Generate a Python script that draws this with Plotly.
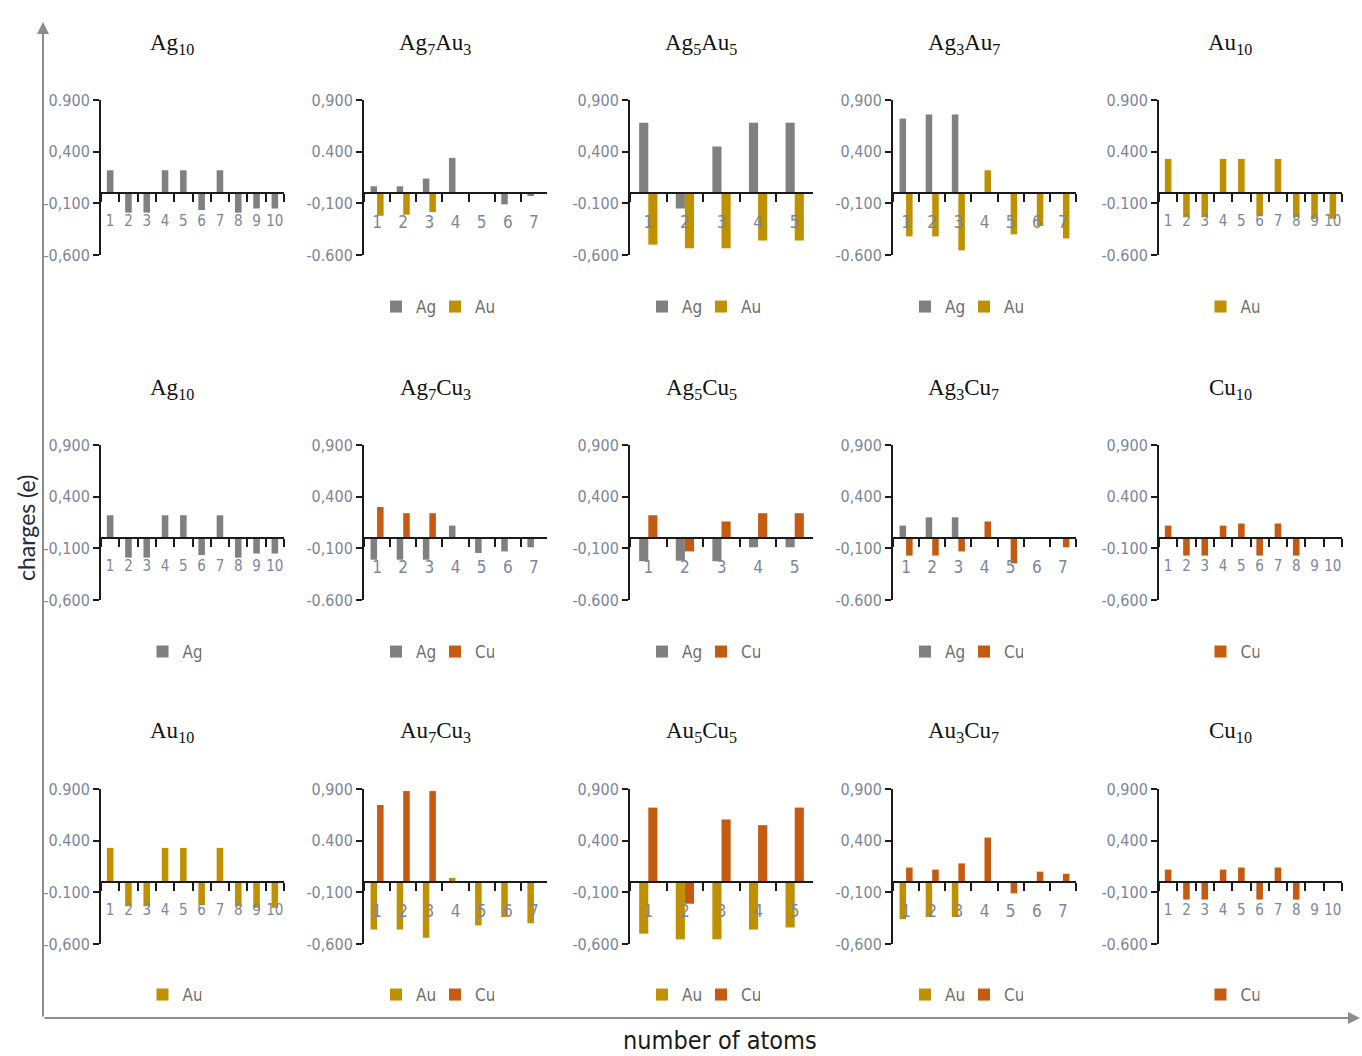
import plotly.graph_objects as go

W, H = 1362, 1056

# ---------------- data (charges, e) ----------------
ag10_ag = [0.22, -0.19, -0.19, 0.22, 0.22, -0.165, 0.22, -0.19, -0.15, -0.15]
ag7au3_ag = [0.065, 0.065, 0.14, 0.34, 0.005, -0.11, -0.03]
ag7au3_au = [-0.22, -0.21, -0.185]
ag5au5_ag = [0.68, -0.15, 0.45, 0.68, 0.68]
ag5au5_au = [-0.50, -0.535, -0.535, -0.46, -0.46]
ag3au7_ag = [0.72, 0.76, 0.76]
ag3au7_au = [-0.42, -0.42, -0.555, 0.22, -0.40, -0.32, -0.44]
au10_au = [0.33, -0.235, -0.235, 0.33, 0.33, -0.225, 0.33, -0.235, -0.25, -0.25]

ag7cu3_ag = [-0.21, -0.21, -0.21, 0.12, -0.145, -0.13, -0.09]
ag7cu3_cu = [0.30, 0.24, 0.24]
ag5cu5_ag = [-0.225, -0.22, -0.225, -0.09, -0.09]
ag5cu5_cu = [0.22, -0.13, 0.16, 0.24, 0.24]
ag3cu7_ag = [0.12, 0.20, 0.20]
ag3cu7_cu = [-0.17, -0.17, -0.13, 0.16, -0.245, 0.0, -0.09]
cu10_cu = [0.12, -0.17, -0.17, 0.12, 0.14, -0.17, 0.14, -0.17, 0.0, 0.0]

au7cu3_au = [-0.46, -0.46, -0.54, 0.04, -0.42, -0.34, -0.40]
au7cu3_cu = [0.745, 0.88, 0.88]
au5cu5_au = [-0.50, -0.555, -0.555, -0.46, -0.44]
au5cu5_cu = [0.72, -0.21, 0.605, 0.55, 0.72]
au3cu7_au = [-0.36, -0.34, -0.34]
au3cu7_cu = [0.14, 0.12, 0.18, 0.43, -0.11, 0.10, 0.08]

titles = [
    "Ag<sub>10</sub>", "Ag<sub>7</sub>Au<sub>3</sub>", "Ag<sub>5</sub>Au<sub>5</sub>",
    "Ag<sub>3</sub>Au<sub>7</sub>", "Au<sub>10</sub>",
    "Ag<sub>10</sub>", "Ag<sub>7</sub>Cu<sub>3</sub>", "Ag<sub>5</sub>Cu<sub>5</sub>",
    "Ag<sub>3</sub>Cu<sub>7</sub>", "Cu<sub>10</sub>",
    "Au<sub>10</sub>", "Au<sub>7</sub>Cu<sub>3</sub>", "Au<sub>5</sub>Cu<sub>5</sub>",
    "Au<sub>3</sub>Cu<sub>7</sub>", "Cu<sub>10</sub>",
]

y_tick_values = [0.9, 0.4, -0.1, -0.6]
y_tick_labels = [
    ["0.900", "0,400", "-0,100", "-0,600"],
    ["0,900", "0.400", "-0,100", "-0.600"],
    ["0,900", "0,400", "-0.100", "-0,600"],
    ["0,900", "0,400", "-0,100", "-0.600"],
    ["0.900", "0.400", "-0.100", "-0.600"],
    ["0,900", "0,400", "-0,100", "-0,600"],
    ["0,900", "0,400", "-0,100", "-0.600"],
    ["0,900", "0,400", "-0,100", "-0.600"],
    ["0,900", "0,400", "-0,100", "-0.600"],
    ["0,900", "0.400", "-0.100", "-0,600"],
    ["0.900", "0.400", "-0.100", "-0,600"],
    ["0,900", "0.400", "-0,100", "-0,600"],
    ["0,900", "0,400", "-0,100", "-0,600"],
    ["0,900", "0,400", "-0,100", "-0,600"],
    ["0,900", "0,400", "-0,100", "-0.600"],
]

panel_series = [
    [("Ag", ag10_ag)],
    [("Ag", ag7au3_ag), ("Au", ag7au3_au)],
    [("Ag", ag5au5_ag), ("Au", ag5au5_au)],
    [("Ag", ag3au7_ag), ("Au", ag3au7_au)],
    [("Au", au10_au)],
    [("Ag", ag10_ag)],
    [("Ag", ag7cu3_ag), ("Cu", ag7cu3_cu)],
    [("Ag", ag5cu5_ag), ("Cu", ag5cu5_cu)],
    [("Ag", ag3cu7_ag), ("Cu", ag3cu7_cu)],
    [("Cu", cu10_cu)],
    [("Au", au10_au)],
    [("Au", au7cu3_au), ("Cu", au7cu3_cu)],
    [("Au", au5cu5_au), ("Cu", au5cu5_cu)],
    [("Au", au3cu7_au), ("Cu", au3cu7_cu)],
    [("Cu", cu10_cu)],
]

# ---------------- styles ----------------
COLORS = {"Ag": "#808080", "Au": "#bf9000", "Cu": "#c55a11"}
Y_MIN, Y_MAX = -0.6, 0.9
col_left_px = [101, 364, 630, 893, 1159]
col_w_px = 183
row_top_px = [100, 445, 789]
row_h_px = 155
title_y_px = [44, 389, 732]
legend_y_px = [307, 652, 995]
center_off_px = 71

NARROW = "DejaVu Sans Condensed, Liberation Sans Narrow, Liberation Sans, sans-serif"
YTICK_FONT = dict(family=NARROW, size=16, color="#7c8699")
LEG_FONT = dict(family=NARROW, size=17, color="#6e6e6e")
TITLE_FONT = dict(family="Liberation Serif, DejaVu Serif, serif", size=23, color="#111111")

fig = go.Figure()
layout = {}
annotations = []

for i, series in enumerate(panel_series):
    r, c = divmod(i, 5)
    k = i + 1
    xa = "x" if k == 1 else f"x{k}"
    ya = "y" if k == 1 else f"y{k}"
    xkey = "xaxis" if k == 1 else f"xaxis{k}"
    ykey = "yaxis" if k == 1 else f"yaxis{k}"
    lg = "legend" if k == 1 else f"legend{k}"

    n = max(len(v) for _, v in series)
    cats = [str(j) for j in range(1, n + 1)]
    single = len(series) == 1
    for name, vals in series:
        fig.add_trace(go.Bar(
            x=cats[:len(vals)], y=vals, name=name,
            marker=dict(color=COLORS[name], line=dict(width=0)),
            width=0.36 if single else None,
            xaxis=xa, yaxis=ya, legend=lg,
        ))

    x0 = col_left_px[c] / W
    x1 = (col_left_px[c] + col_w_px) / W
    y0 = 1 - (row_top_px[r] + row_h_px) / H
    y1 = 1 - row_top_px[r] / H
    zero_pos = y0 + (0 - Y_MIN) / (Y_MAX - Y_MIN) * (y1 - y0)

    xfont = dict(family=NARROW, size=15 if n >= 10 else 17, color="#7c8699")
    layout[xkey] = dict(
        domain=[x0, x1], anchor="free", position=zero_pos,
        type="category", categoryorder="array", categoryarray=cats,
        tickmode="array", tickvals=cats, ticktext=cats, tickangle=0,
        range=[-0.5, n - 0.5],
        showline=True, linecolor="#1a1a1a", linewidth=2,
        ticks="outside", ticklen=8, tickwidth=1.5, tickcolor="#1a1a1a",
        tickson="boundaries", showgrid=False, zeroline=False,
        tickfont=xfont, ticklabelstandoff=14, fixedrange=True,
        automargin=False,
    )
    layout[ykey] = dict(
        domain=[y0, y1], anchor=xa, range=[Y_MIN, Y_MAX],
        tickmode="array", tickvals=y_tick_values, ticktext=y_tick_labels[i],
        showline=True, linecolor="#1a1a1a", linewidth=2,
        ticks="outside", ticklen=6, tickwidth=1.5, tickcolor="#1a1a1a",
        showgrid=False, zeroline=False, tickfont=YTICK_FONT, fixedrange=True,
        automargin=False,
    )
    cx = (col_left_px[c] + center_off_px) / W
    layout[lg] = dict(
        x=cx, y=1 - legend_y_px[r] / H, xanchor="center", yanchor="middle",
        orientation="h", font=LEG_FONT, bgcolor="rgba(0,0,0,0)",
        entrywidth=14, entrywidthmode="pixels", itemclick=False, itemdoubleclick=False,
        traceorder="normal",
    )
    annotations.append(dict(
        text=titles[i], x=cx, y=1 - title_y_px[r] / H, xref="paper", yref="paper",
        showarrow=False, font=TITLE_FONT, xanchor="center", yanchor="middle",
    ))

# big L-shaped arrow axes
annotations.append(dict(
    x=43 / W, y=1 - 22 / H, ax=0, ay=996,
    xref="paper", yref="paper", axref="pixel", ayref="pixel",
    text="", showarrow=True, arrowhead=2, arrowsize=1.2, arrowwidth=2, arrowcolor="#8c8c8c",
))
annotations.append(dict(
    x=1360 / W, y=1 - 1018 / H, ax=-1317, ay=0,
    xref="paper", yref="paper", axref="pixel", ayref="pixel",
    text="", showarrow=True, arrowhead=2, arrowsize=1.2, arrowwidth=2, arrowcolor="#8c8c8c",
))
annotations.append(dict(
    text="charges (e)", x=26 / W, y=1 - 528 / H, xref="paper", yref="paper",
    textangle=-90, showarrow=False, xanchor="center", yanchor="middle",
    font=dict(family="Lato, Open Sans, sans-serif", size=23, color="#1f2a44"),
))
annotations.append(dict(
    text="number of atoms", x=720 / W, y=1 - 1040 / H, xref="paper", yref="paper",
    showarrow=False, xanchor="center", yanchor="middle",
    font=dict(family=NARROW, size=25, color="#1a1a1a"),
))

fig.update_layout(
    width=W, height=H, margin=dict(l=0, r=0, t=0, b=0, pad=0, autoexpand=False),
    paper_bgcolor="white", plot_bgcolor="white",
    barmode="group", bargap=0.5, bargroupgap=0.0,
    annotations=annotations, hovermode=False,
    **layout,
)

fig.write_html("out.html", config={"displayModeBar": False},
               post_script="document.body.style.margin='0';")
